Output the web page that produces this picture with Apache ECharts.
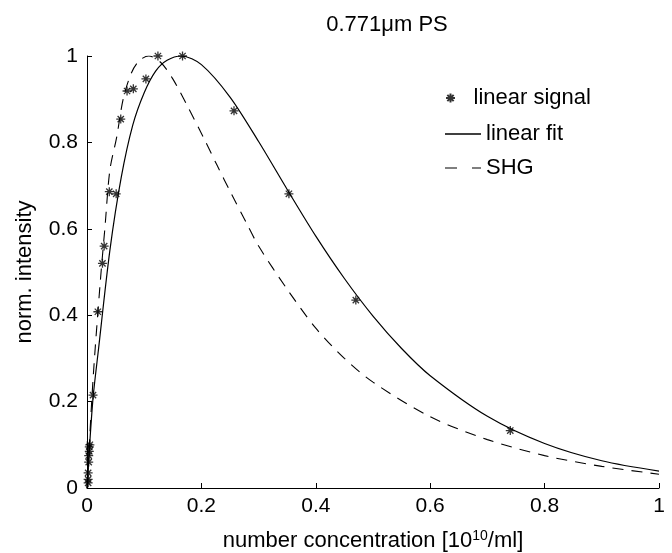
<!DOCTYPE html>
<html>
<head>
<meta charset="utf-8">
<script src="https://cdn.jsdelivr.net/npm/echarts@6/dist/echarts.min.js"></script>
<style>
  html, body { margin: 0; padding: 0; background: #fff; }
  #chart { width: 672px; height: 553px; }
</style>
</head>
<body>
<div id="chart"></div>
<script>
// measured points (linear signal)
const signalX = [0.002, 0.002, 0.002, 0.003, 0.003, 0.004, 0.004, 0.005, 0.0105, 0.019, 0.027, 0.030,
  0.039, 0.051, 0.059, 0.070, 0.081, 0.103, 0.124, 0.167, 0.257, 0.353, 0.47, 0.74];
const signalY = [0.012, 0.02, 0.035, 0.06, 0.075, 0.085, 0.095, 0.10, 0.215, 0.408, 0.52, 0.56,
  0.686, 0.681, 0.854, 0.919, 0.924, 0.947, 1.0, 1.0, 0.873, 0.681, 0.435, 0.133];

// linear fit curve
const fitX = [0, 0.01, 0.02, 0.04, 0.06, 0.08, 0.1, 0.12, 0.14, 0.165, 0.2, 0.25, 0.3, 0.35, 0.4,
  0.45, 0.5, 0.55, 0.6, 0.7, 0.8, 0.9, 1.0];
const fitY = [0, 0.2, 0.32, 0.55, 0.72, 0.84, 0.915, 0.965, 0.99, 1.0, 0.98, 0.905, 0.802, 0.691, 0.583,
  0.485, 0.398, 0.323, 0.26, 0.166, 0.103, 0.063, 0.039];

// SHG curve
const shgX = [0, 0.0105, 0.023, 0.0315, 0.04, 0.052, 0.0635, 0.078, 0.092, 0.108, 0.129, 0.15, 0.176,
  0.203, 0.227, 0.252, 0.279, 0.3, 0.35, 0.4, 0.45, 0.5, 0.6, 0.7, 0.8, 0.9, 1.0];
const shgY = [0, 0.25, 0.474, 0.605, 0.736, 0.813, 0.902, 0.962, 0.99, 1.0, 0.985, 0.947, 0.883,
  0.813, 0.748, 0.682, 0.613, 0.56, 0.46, 0.37, 0.30, 0.245, 0.165, 0.112, 0.075, 0.05, 0.032];

const xTicks = { min: 0, max: 1, interval: 0.2 };
const yTicks = { min: 0, max: 1, interval: 0.2 };

const pairs = (xs, ys) => xs.map((x, i) => [x, ys[i]]);

const asterisk = 'path://M0,5L10,5M5,0L5,10M1.5,1.5L8.5,8.5M8.5,1.5L1.5,8.5';
const solidIcon = 'rect';
const dashIcon = 'path://M0,0L12,0L12,1L0,1Z M27,0L36,0L36,1L27,1Z';
const font = 'Liberation Sans, Arial, Helvetica, sans-serif';
const tickSize = 21;
const textSize = 22;

const chart = echarts.init(document.getElementById('chart'), null, { renderer: 'canvas' });

chart.setOption({
  animation: false,
  backgroundColor: '#fff',
  textStyle: { fontFamily: font, color: '#000' },
  title: {
    text: '0.771\u03bcm PS',
    left: 382,
    top: 9,
    textAlign: 'center',
    textStyle: { fontFamily: font, fontSize: textSize, fontWeight: 'normal', color: '#000' }
  },
  grid: { left: 87, right: 13, top: 56, bottom: 65, containLabel: false, outerBoundsMode: 'none' },
  legend: [
    {
      orient: 'vertical',
      left: 440,
      top: 82,
      itemWidth: 36,
      itemHeight: 9,
      textStyle: { fontFamily: font, fontSize: textSize, color: '#000' },
      data: ['linear signal']
    },
    {
      orient: 'vertical',
      left: 440,
      top: 118,
      itemWidth: 36,
      itemHeight: 1.3,
      itemGap: 12,
      textStyle: { fontFamily: font, fontSize: textSize, color: '#000' },
      data: [
        { name: 'linear fit', icon: solidIcon },
        { name: 'SHG', icon: dashIcon }
      ]
    }
  ],
  xAxis: {
    type: 'value',
    min: xTicks.min,
    max: xTicks.max,
    interval: xTicks.interval,
    name: 'number concentration [10{sup|10}/ml]',
    nameLocation: 'middle',
    nameGap: 41,
    nameTextStyle: {
      fontFamily: font, fontSize: textSize, color: '#000',
      rich: { sup: { fontSize: 14, fontFamily: font, color: '#000', padding: [0, 0, 10, 0] } }
    },
    axisLine: { show: true, onZero: false, lineStyle: { color: '#000', width: 1 } },
    axisTick: { show: true, inside: true, length: 5, lineStyle: { color: '#000' } },
    axisLabel: { fontFamily: font, fontSize: tickSize, color: '#000', margin: 8 },
    splitLine: { show: false }
  },
  yAxis: {
    type: 'value',
    min: yTicks.min,
    max: yTicks.max,
    interval: yTicks.interval,
    name: 'norm. intensity',
    nameLocation: 'middle',
    nameGap: 51,
    nameTextStyle: { fontFamily: font, fontSize: textSize, color: '#000' },
    axisLine: { show: true, onZero: false, lineStyle: { color: '#000', width: 1 } },
    axisTick: { show: true, inside: true, length: 5, lineStyle: { color: '#000' } },
    axisLabel: { fontFamily: font, fontSize: tickSize, color: '#000', margin: 9 },
    splitLine: { show: false }
  },
  series: [
    {
      name: 'linear signal',
      type: 'scatter',
      data: pairs(signalX, signalY),
      symbol: asterisk,
      symbolSize: 9,
      itemStyle: { color: 'rgba(0,0,0,0)', borderColor: '#000', borderWidth: 1.3 },
      z: 5
    },
    {
      name: 'linear fit',
      type: 'line',
      data: pairs(fitX, fitY),
      smooth: 0.3,
      showSymbol: false,
      symbol: 'none',
      itemStyle: { color: '#000' },
      lineStyle: { color: '#000', width: 1.2 }
    },
    {
      name: 'SHG',
      type: 'line',
      data: pairs(shgX, shgY),
      smooth: 0.3,
      showSymbol: false,
      symbol: 'none',
      itemStyle: { color: '#000' },
      lineStyle: { color: '#000', width: 1.1, type: [11, 8] }
    }
  ]
});
</script>
</body>
</html>
